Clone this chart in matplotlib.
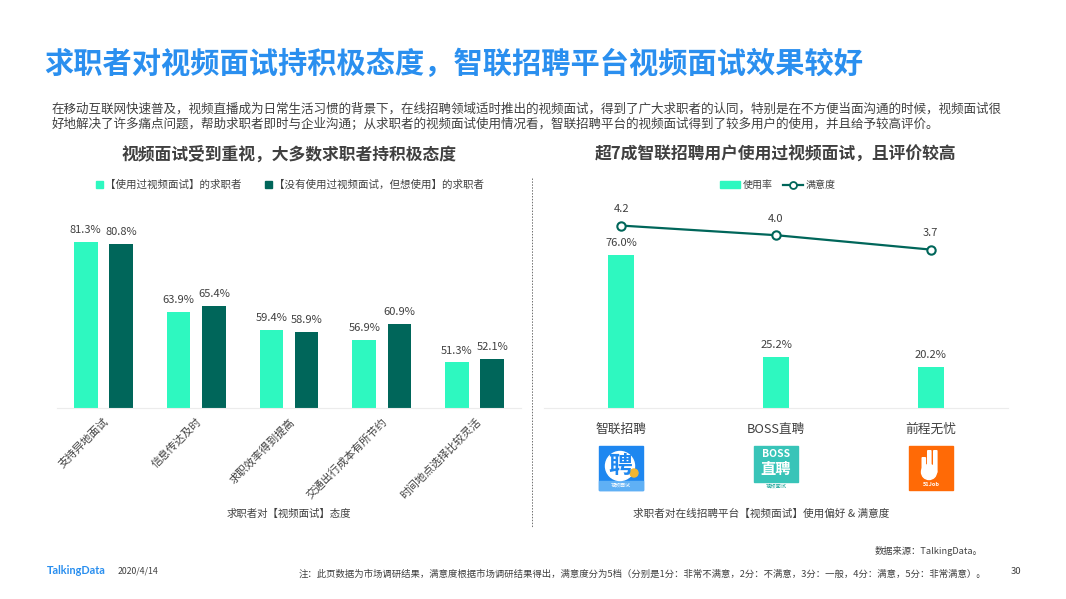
import matplotlib
matplotlib.use('Agg')
import matplotlib.pyplot as plt
from matplotlib.patches import Rectangle, Circle, FancyBboxPatch
from matplotlib.lines import Line2D

plt.rcParams['font.family'] = ['Noto Sans CJK SC', 'DejaVu Sans']

W, H = 1066, 599
TEXT = '#404040'
LIGHT = '#2EF8C0'
DARK = '#00665A'
BLUE = '#2A8FEF'

# left chart
attitudes = ['支持异地面试', '信息传达及时', '求职效率得到提高', '交通出行成本有所节约', '时间地点选择比较灵活']
used = [81.3, 63.9, 59.4, 56.9, 51.3]
want = [80.8, 65.4, 58.9, 60.9, 52.1]
left_names = ['【使用过视频面试】的求职者', '【没有使用过视频面试，但想使用】的求职者']

# right chart
platforms = ['智联招聘', 'BOSS直聘', '前程无忧']
usage = [76.0, 25.2, 20.2]
satisfaction = [4.2, 4.0, 3.7]
right_names = ['使用率', '满意度']

intro = ['在移动互联网快速普及，视频直播成为日常生活习惯的背景下，在线招聘领域适时推出的视频面试，得到了广大求职者的认同，特别是在不方便当面沟通的时候，视频面试很',
         '好地解决了许多痛点问题，帮助求职者即时与企业沟通；从求职者的视频面试使用情况看，智联招聘平台的视频面试得到了较多用户的使用，并且给予较高评价。']
note = '注：此页数据为市场调研结果，满意度根据市场调研结果得出，满意度分为5档（分别是1分：非常不满意，2分：不满意，3分：一般，4分：满意，5分：非常满意）。'


def axes_px(fig, x0, x1, y0, y1):
    return fig.add_axes([x0 / W, 1 - y1 / H, (x1 - x0) / W, (y1 - y0) / H])


def clean(ax):
    for s in ['top', 'left', 'right']:
        ax.spines[s].set_visible(False)
    ax.spines['bottom'].set_color('#ececec')
    ax.set_yticks([])
    ax.tick_params(axis='x', length=0)
    ax.patch.set_alpha(0)


fig = plt.figure(figsize=(W / 100, H / 100), dpi=100)

page = fig.add_axes([0, 0, 1, 1])
page.set_xlim(0, W)
page.set_ylim(H, 0)
page.axis('off')

page.text(44.5, 64, '求职者对视频面试持积极态度，智联招聘平台视频面试效果较好', fontsize=21.05,
          fontweight='bold', color=BLUE, va='center')
page.text(52, 109, intro[0], fontsize=9.04, color=TEXT, va='center')
page.text(52, 124, intro[1], fontsize=9.04, color=TEXT, va='center')
page.text(289, 155, '视频面试受到重视，大多数求职者持积极态度', fontsize=12.1, fontweight='bold',
          color=TEXT, ha='center', va='center')
page.text(776, 155, '超7成智联招聘用户使用过视频面试，且评价较高', fontsize=12.1, fontweight='bold',
          color=TEXT, ha='center', va='center')
page.plot([532, 532], [178, 527], color='#707070', lw=0.7, ls=(0, (1.5, 1.5)))

page.text(289, 514, '求职者对【视频面试】态度', fontsize=7.5, color=TEXT, ha='center', va='center')
page.text(761, 514, '求职者对在线招聘平台【视频面试】使用偏好 & 满意度', fontsize=7.65, color=TEXT,
          ha='center', va='center')
page.text(982, 551, '数据来源：TalkingData。', fontsize=6.7, color=TEXT, ha='right', va='center', style='italic')
page.text(986, 574, note, fontsize=6.78, color=TEXT, ha='right', va='center', style='italic')
page.text(47, 571, 'TalkingData', fontsize=7.8, color=BLUE, fontweight='bold', va='center', family='Lato')
page.text(118, 571, '2020/4/14', fontsize=6.3, color=TEXT, va='center')
page.text(1016, 571, '30', fontsize=6.8, color=TEXT, ha='center', va='center')

# logos
page.add_patch(Rectangle((599, 446), 44, 44, color='#1E87F0'))
page.add_patch(Rectangle((599, 481), 44, 9, color='#5FB0F5'))
page.add_patch(Circle((620, 466), 14.5, color='white'))
page.text(620, 466, '聘', fontsize=17, color='#1E87F0', fontweight='bold', ha='center', va='center')
page.add_patch(Circle((634, 473), 4, color='#F2B632'))
page.text(621, 485.5, '视频面试', fontsize=3.6, color='white', ha='center', va='center')

page.add_patch(Rectangle((754, 446), 44, 36, color='#38C4B8'))
page.text(776, 454, 'BOSS', fontsize=7.5, color='white', fontweight='bold', ha='center', va='center')
page.text(776, 469, '直聘', fontsize=11, color='white', fontweight='bold', ha='center', va='center')
page.text(776, 486, '视频面试', fontsize=3.8, color='#20A89C', ha='center', va='center')

page.add_patch(Rectangle((909, 446), 44, 44, color='#FF6A06'))
for x, top, bot in [(922.5, 458, 472), (928, 451, 472), (934, 451, 472)]:
    page.add_patch(FancyBboxPatch((x, top), 2.6, bot - top, boxstyle='round,pad=1', color='white', lw=0))
page.add_patch(Circle((929, 472), 7.5, color='white'))
page.text(931, 485, '51Job', fontsize=4, color='white', fontweight='bold', ha='center', va='center')

# left bars
ax = axes_px(fig, 57, 521, 200, 408)
clean(ax)
pos = list(range(len(attitudes)))
b1 = ax.bar([p - 0.19 for p in pos], used, width=0.255, color=LIGHT, label=left_names[0])
b2 = ax.bar([p + 0.19 for p in pos], want, width=0.255, color=DARK, label=left_names[1])
ax.bar_label(b1, fmt='%.1f%%', fontsize=8, color=TEXT, padding=5)
ax.bar_label(b2, fmt='%.1f%%', fontsize=8, color=TEXT, padding=5)
ax.set_xlim(-0.5, 4.5)
ax.set_ylim(40, 91.6)
ax.set_xticks(pos)
ax.set_xticklabels(attitudes, rotation=45, ha='right', rotation_mode='anchor', fontsize=7.85, color=TEXT)
ax.tick_params(axis='x', pad=6)
fig.legend(handles=[Rectangle((0, 0), 1, 1, color=LIGHT), Rectangle((0, 0), 1, 1, color=DARK)],
           labels=left_names, ncol=2, frameon=False, fontsize=7.55, labelcolor=TEXT,
           loc='center', bbox_to_anchor=(290 / W, 1 - 185 / H), handlelength=0.7, handleheight=0.7,
           handletextpad=0.2, columnspacing=2.2)

# right bars + satisfaction line
ax2 = axes_px(fig, 544, 1008, 200, 408)
clean(ax2)
pos2 = list(range(len(platforms)))
b3 = ax2.bar(pos2, usage, width=0.168, color=LIGHT)
ax2.bar_label(b3, fmt='%.1f%%', fontsize=8, color=TEXT, padding=5)
ax2.set_xlim(-0.5, 2.5)
ax2.set_ylim(0, 103)
ax2.set_xticks(pos2)
ax2.set_xticklabels(platforms, fontsize=9.2, color=TEXT)
ax2.tick_params(axis='x', pad=10.5)

ax3 = ax2.twinx()
ax3.set_ylim(0.4, 4.733)
ax3.axis('off')
ax3.plot(pos2, satisfaction, color=DARK, lw=1.6, marker='o', ms=6, mfc='white', mec=DARK, mew=1.5)
for p, v in zip(pos2, satisfaction):
    ax3.annotate(f'{v:.1f}', (p, v), xytext=(0, 9.5), textcoords='offset points', ha='center',
                 fontsize=8, color=TEXT)
fig.legend(handles=[Rectangle((0, 0), 1, 1, color=LIGHT),
                    Line2D([], [], color=DARK, lw=1.6, marker='o', ms=5, mfc='white', mec=DARK, mew=1.3)],
           labels=right_names, ncol=2, frameon=False, fontsize=7.2, labelcolor=TEXT,
           loc='center', bbox_to_anchor=(778 / W, 1 - 185 / H), handlelength=2, handleheight=0.7,
           handletextpad=0.3, columnspacing=1)

fig.savefig('out.png', dpi=100)
